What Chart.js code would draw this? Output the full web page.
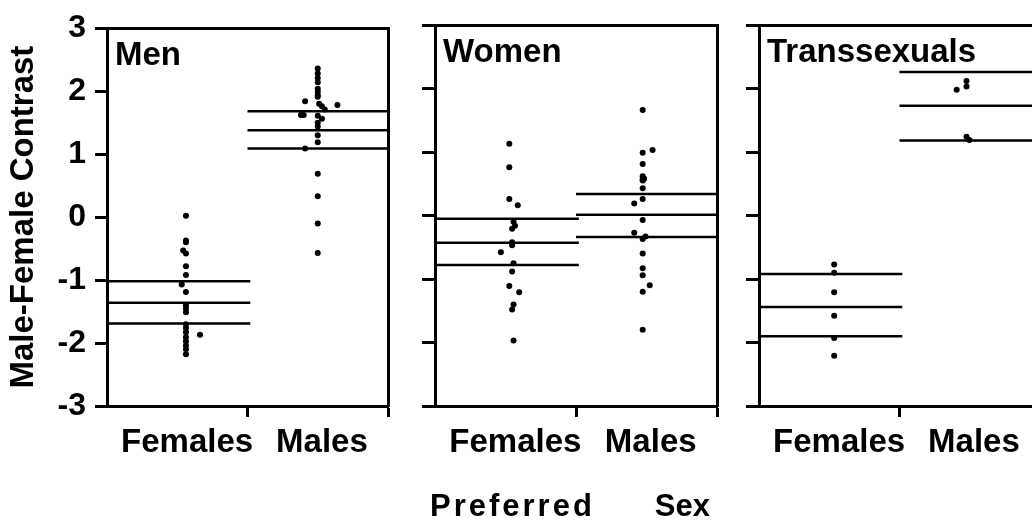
<!DOCTYPE html>
<html>
<head>
<meta charset="utf-8">
<script src="https://cdn.jsdelivr.net/npm/chart.js@4.4.0/dist/chart.umd.min.js"></script>
<style>
  html, body { margin: 0; padding: 0; background: #fff; overflow: hidden; }
  body { width: 1032px; height: 522px; position: relative; }
  .panel { position: absolute; top: 0; height: 522px; }
  #p1 { left: 0; width: 400px; }
  #p2 { left: 400px; width: 329px; }
  #p3 { left: 729px; width: 323px; }
  .xtitle { position: absolute; left: 430px; top: 490px; font: bold 31px "Liberation Sans", Arial, sans-serif; line-height: 32px; white-space: nowrap; color: #000; }
</style>
</head>
<body>
<div class="panel" id="p1"><canvas id="men"></canvas></div>
<div class="panel" id="p2"><canvas id="women"></canvas></div>
<div class="panel" id="p3"><canvas id="trans"></canvas></div>
<div class="xtitle"><span style="letter-spacing:3px">Preferred</span><span style="margin-left:60px">Sex</span></div>
<script>
const yTicks = [-3, -2, -1, 0, 1, 2, 3];
const groups = ["Females", "Males"];
const groupAt = [0.57, 1.53];

// Men
const menFemales = [0.02, -0.37, -0.40, -0.53, -0.58, -0.78, -0.92, -1.07, -1.19, -1.40, -1.45, -1.51, -1.70, -1.76, -1.83, -1.87, -1.91, -1.97, -2.04, -2.10, -2.18];
const menFemalesJit = [0, 0, 0, -0.02, 0, 0, 0, -0.03, 0, 0, 0, 0, 0, 0, 0, 0.10, 0, 0, 0, 0, 0];
const menMales = [2.36, 2.28, 2.21, 2.14, 2.04, 1.99, 1.94, 1.91, 1.84, 1.80, 1.78, 1.76, 1.71, 1.62, 1.62, 1.61, 1.56, 1.50, 1.44, 1.30, 1.19, 1.09, 0.69, 0.33, -0.10, -0.57];
const menMalesJit = [0, 0, 0, 0, 0, 0, 0, 0, -0.09, 0.01, 0.14, 0.03, 0.05, -0.12, -0.10, 0, 0.03, 0, 0, 0, 0, -0.09, 0, 0, 0, 0];
const menFemaleLines = [-1.02, -1.36, -1.69];
const menMaleLines = [1.68, 1.38, 1.09];

// Women
const womenFemales = [1.13, 0.76, 0.26, 0.16, -0.10, -0.16, -0.21, -0.42, -0.47, -0.58, -0.75, -0.88, -1.11, -1.21, -1.40, -1.48, -1.97];
const womenFemalesJit = [0, 0, 0, 0.06, 0.03, 0.04, 0.02, 0.02, 0.02, -0.06, 0.03, 0.02, 0, 0.07, 0.03, 0.02, 0.03];
const womenMales = [1.66, 1.03, 0.99, 0.81, 0.62, 0.58, 0.57, 0.55, 0.43, 0.26, 0.19, -0.07, -0.27, -0.33, -0.37, -0.60, -0.83, -0.94, -1.10, -1.20, -1.80];
const womenMalesJit = [0, 0.07, 0, 0, 0, 0.01, 0, 0, 0, 0, -0.06, 0, -0.06, 0.02, 0, 0, 0, 0, 0.05, 0, 0];
const womenFemaleLines = [-0.05, -0.43, -0.78];
const womenMaleLines = [0.34, 0.01, -0.34];

// Transsexuals
const transFemales = [-0.77, -0.90, -1.21, -1.58, -1.93, -2.21];
const transFemalesJit = [0, 0, 0, 0, 0, 0];
const transMales = [2.12, 2.03, 1.98, 1.24, 1.19];
const transMalesJit = [0, 0, -0.07, 0, 0.02];
const transFemaleLines = [-0.92, -1.44, -1.90];
const transMaleLines = [2.26, 1.73, 1.18];

Chart.defaults.font.family = '"Liberation Sans", Arial, Helvetica, sans-serif';
Chart.defaults.font.size = 32;
Chart.defaults.font.weight = "bold";
Chart.defaults.color = "#000";

// panel name written inside the plot box, top left
const panelLabel = {
  id: "panelLabel",
  afterDraw(chart, args, opts) {
    const { ctx, chartArea } = chart;
    ctx.save();
    ctx.font = 'bold 33px "Liberation Sans", Arial, sans-serif';
    ctx.fillStyle = "#000";
    ctx.textBaseline = "alphabetic";
    ctx.fillText(opts.text, chartArea.left + 8, chartArea.top + 37);
    ctx.restore();
  }
};

function dots(vals, jit, col) {
  return vals.map((v, i) => ({ x: col + jit[i], y: v }));
}

function hline(y, x0, x1) {
  return [{ x: x0, y: y }, { x: x1, y: y }];
}

function makePanel(id, p) {
  const datasets = [];
  p.femLines.forEach(y => datasets.push({ data: hline(y, 0, 1.02), showLine: true, borderColor: "#000", borderWidth: 2.5, pointRadius: 0 }));
  p.maleLines.forEach(y => datasets.push({ data: hline(y, 1, 2), showLine: true, borderColor: "#000", borderWidth: 2.5, pointRadius: 0 }));
  datasets.push({ data: dots(p.fem, p.femJit, p.cols[0]), pointRadius: 3, backgroundColor: "#000", borderWidth: 0 });
  datasets.push({ data: dots(p.male, p.maleJit, p.cols[1]), pointRadius: 3, backgroundColor: "#000", borderWidth: 0 });

  new Chart(document.getElementById(id), {
    type: "scatter",
    data: { datasets: datasets },
    plugins: [panelLabel],
    options: {
      responsive: true,
      maintainAspectRatio: false,
      animation: false,
      events: [],
      layout: { padding: { top: 25, right: 12, bottom: 0, left: 0 } },
      plugins: {
        legend: { display: false },
        tooltip: { enabled: false },
        panelLabel: { text: p.name }
      },
      scales: {
        x: {
          type: "linear", min: 0, max: 2,
          afterBuildTicks: s => { s.ticks = [groupAt[0], 1, groupAt[1], 2].map(v => ({ value: v })); },
          afterFit: s => { s.height = 116; },
          ticks: {
            autoSkip: false, maxRotation: 0, padding: 6, font: { size: 33 },
            callback: v => v === groupAt[0] ? groups[0] : (v === groupAt[1] ? groups[1] : "")
          },
          grid: {
            drawOnChartArea: false, tickLength: 11, tickWidth: 3,
            tickColor: c => (c.tick && c.tick.value % 1 === 0) ? "#000" : "rgba(0,0,0,0)"
          },
          border: { color: "#000", width: 3 }
        },
        x2: {
          type: "linear", position: "top", min: 0, max: 2,
          afterFit: s => { s.height = 0; },
          ticks: { display: false },
          grid: { drawOnChartArea: false, drawTicks: false },
          border: { color: "#000", width: 3 }
        },
        y: {
          type: "linear", min: -3, max: 3,
          afterBuildTicks: s => { s.ticks = yTicks.map(v => ({ value: v })); },
          afterFit: s => { s.width = p.yWidth; },
          ticks: { display: p.showY, padding: 9, font: { size: 32 } },
          title: { display: p.showY, text: "Male-Female Contrast", font: { size: 33 }, padding: { top: 4, bottom: 0 } },
          grid: { drawOnChartArea: false, tickLength: p.tickLen, tickWidth: 3, tickColor: "#000" },
          border: { color: "#000", width: 3 }
        },
        y2: {
          type: "linear", position: "right", min: -3, max: 3,
          afterFit: s => { s.width = 0; },
          ticks: { display: false },
          grid: { drawOnChartArea: false, drawTicks: false },
          border: { color: "#000", width: 3 }
        }
      }
    }
  });
}

makePanel("men", {
  name: "Men", yWidth: 107, showY: true, tickLen: 12, cols: [0.562, 1.50],
  fem: menFemales, femJit: menFemalesJit, male: menMales, maleJit: menMalesJit,
  femLines: menFemaleLines, maleLines: menMaleLines
});
makePanel("women", {
  name: "Women", yWidth: 35, showY: false, tickLen: 13, cols: [0.527, 1.473],
  fem: womenFemales, femJit: womenFemalesJit, male: womenMales, maleJit: womenMalesJit,
  femLines: womenFemaleLines, maleLines: womenMaleLines
});
makePanel("trans", {
  name: "Transsexuals", yWidth: 30, showY: false, tickLen: 13, cols: [0.535, 1.477],
  fem: transFemales, femJit: transFemalesJit, male: transMales, maleJit: transMalesJit,
  femLines: transFemaleLines, maleLines: transMaleLines
});
</script>
</body>
</html>
